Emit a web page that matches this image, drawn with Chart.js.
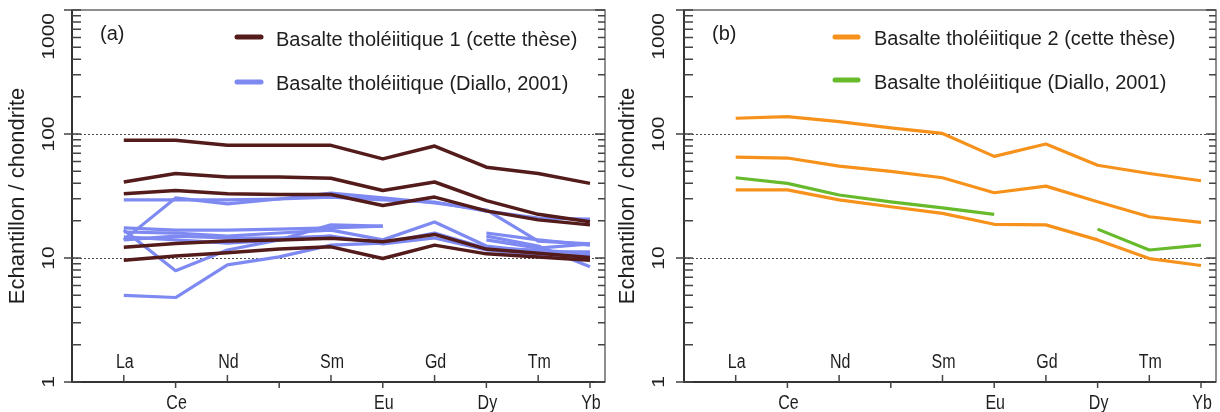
<!DOCTYPE html>
<html>
<head>
<meta charset="utf-8">
<script src="https://cdn.jsdelivr.net/npm/chart.js@4/dist/chart.umd.min.js"></script>
<style>
  html, body { margin: 0; padding: 0; background: #ffffff; }
  #wrap { display: flex; width: 1220px; height: 412px; }
  .panel { position: relative; width: 610px; height: 412px; }
  canvas { display: block; }
</style>
</head>
<body>
<div id="wrap">
  <div class="panel"><canvas id="chartA" width="610" height="412"></canvas></div>
  <div class="panel"><canvas id="chartB" width="610" height="412"></canvas></div>
</div>
<script>
// ---------- data ----------
const ELEMENTS = ['La', 'Ce', 'Nd', '', 'Sm', 'Eu', 'Gd', 'Dy', 'Tm', 'Yb'];
const POSITIONS = [1, 2, 3, 4, 5, 6, 7, 8, 9, 10];
const Y_MAJOR = [1, 10, 100, 1000];

const LEGEND_A = ['Basalte tholéiitique 1 (cette thèse)', 'Basalte tholéiitique (Diallo, 2001)'];
const LEGEND_B = ['Basalte tholéiitique 2 (cette thèse)', 'Basalte tholéiitique (Diallo, 2001)'];

// Panel (a) - basalte tholéiitique 1 (cette thèse)
const a_these_1 = [89, 89, 81, 81, 81, 63, 80, 54, 48, 40];
const a_these_2 = [41, 48, 45, 45, 44, 35, 41, 29, 22.5, 19.6];
const a_these_3 = [33, 35, 33, 32.5, 32.5, 26.5, 31, 24, 20.3, 18.5];
const a_these_4 = [12.2, 13.1, 13.7, 14.0, 14.4, 13.5, 15.5, 11.8, 10.9, 10.1];
const a_these_5 = [9.6, 10.4, 11.0, 11.8, 12.3, 9.9, 12.7, 10.8, 10.2, 9.6];

// Panel (a) - Diallo 2001
const a_diallo_1 = [29.4, 29.4, 29.4, 29.9, 31.0, 29.4, 28.3, 23.9, 21.0, 20.6];
const a_diallo_2 = [14.0, 30.5, 27.3, 29.9, 33.4, 30.5, 27.8, 24.4, 13.7, 13.0];
const a_diallo_3 = [17.5, 16.8, 16.8, 17.1, 17.5, 18.1, null, null, null, null];
const a_diallo_4 = [16.2, 15.9, 15.0, 15.9, 16.8, 14.0, 19.5, 12.5, 11.2, 11.2];
const a_diallo_5 = [16.8, 7.9, 11.6, 14.0, 18.5, 18.1, null, null, null, null];
const a_diallo_6 = [5.0, 4.8, 8.8, 10.2, 12.7, 13.2, 15.9, 12.0, 11.6, 10.8];
const a_diallo_7 = [14.8, 14.0, 13.2, 14.0, 15.0, 13.0, 14.5, 11.6, 10.6, 10.4];
const a_diallo_8 = [14.0, 15.0, 14.5, 14.5, 15.0, null, null, null, null, null];
const a_diallo_9 = [null, null, null, null, null, null, null, 15.9, 14.0, 12.7];
const a_diallo_10 = [null, null, null, null, null, null, null, 15.0, 12.5, 8.5];
const a_diallo_11 = [null, null, null, null, null, null, null, 14.0, 12.0, 13.0];

// Panel (b) - basalte tholéiitique 2 (cette thèse)
const b_these_1 = [134, 138, 126, 112, 101, 66, 83, 56, 48, 42];
const b_these_2 = [65, 64, 55, 50, 44.4, 33.6, 38, 28.4, 21.5, 19.4];
const b_these_3 = [35.4, 35.4, 29.4, 25.9, 22.9, 18.7, 18.5, 14.0, 9.9, 8.7];

// Panel (b) - Diallo 2001
const b_diallo_1 = [44.4, 40, 32.2, 28.4, 25.4, 22.5, null, 17.1, 11.6, 12.7];

// ---------- styling ----------
const BROWN = '#541b1b';
const BLUE = '#7e8af2';
const ORANGE = '#f6921c';
const GREEN = '#67ba2c';
const FONT = '"Liberation Sans", Arial, Helvetica, sans-serif';

function toPoints(vals) {
  return vals.map((v, i) => ({ x: POSITIONS[i], y: v }));
}
function series(label, vals, color, width) {
  return {
    label: label,
    data: toPoints(vals),
    borderColor: color,
    backgroundColor: color,
    borderWidth: width,
    pointRadius: 0,
    pointHoverRadius: 0,
    tension: 0,
    fill: false,
    spanGaps: false,
    borderJoinStyle: 'round',
    borderCapStyle: 'butt'
  };
}

// plugin: frame, ticks, tick labels, legend, panel letter
const framePlugin = {
  id: 'frame',
  afterDraw(chart, args, opts) {
    const { ctx, chartArea: a, scales: { x, y } } = chart;
    ctx.save();

    // box
    ctx.strokeStyle = '#6a6a6a';
    ctx.lineWidth = 1.5;
    ctx.strokeRect(a.left, a.top, a.right - a.left, a.bottom - a.top);
    ctx.strokeStyle = '#333333';
    ctx.lineWidth = 2;
    ctx.beginPath();
    ctx.moveTo(a.left, a.top);
    ctx.lineTo(a.left, a.bottom);
    ctx.lineTo(a.right, a.bottom);
    ctx.stroke();

    // y ticks
    ctx.lineWidth = 1.5;
    ctx.strokeStyle = '#444444';
    for (let e = 0; e <= 3; e++) {
      for (let m = 1; m <= 9; m++) {
        const v = m * Math.pow(10, e);
        if (v > 1000) break;
        const py = y.getPixelForValue(v);
        const major = (m === 1);
        ctx.beginPath();
        if (major) {
          ctx.moveTo(a.left - 8, py); ctx.lineTo(a.left + 9, py);
          ctx.moveTo(a.right - 10, py); ctx.lineTo(a.right, py);
        } else {
          ctx.moveTo(a.left, py); ctx.lineTo(a.left + 9, py);
          ctx.moveTo(a.right - 7, py); ctx.lineTo(a.right, py);
        }
        ctx.stroke();
      }
    }

    // x ticks (alternating inside / outside)
    POSITIONS.forEach((p, i) => {
      const px = x.getPixelForValue(p);
      ctx.beginPath();
      if (i % 2 === 0) { ctx.moveTo(px, a.bottom); ctx.lineTo(px, a.bottom - 7); }
      else { ctx.moveTo(px, a.bottom); ctx.lineTo(px, a.bottom + 6); }
      ctx.stroke();
    });

    // x labels, two rows
    ctx.fillStyle = '#1e1e1e';
    ctx.font = '20px ' + FONT;
    ctx.textAlign = 'center';
    ctx.textBaseline = 'alphabetic';
    ELEMENTS.forEach((lab, i) => {
      if (!lab) return;
      const px = x.getPixelForValue(POSITIONS[i]);
      const by = (i % 2 === 0) ? a.bottom - 14.5 : a.bottom + 27;
      ctx.save();
      ctx.translate(px + 1, by);
      ctx.scale(0.8, 1);
      ctx.fillText(lab, 0, 0);
      ctx.restore();
    });

    // y labels, rotated
    ctx.font = '21px ' + FONT;
    ctx.textBaseline = 'middle';
    Y_MAJOR.forEach(v => {
      const txt = String(v);
      const half = ctx.measureText(txt).width / 2;
      let cy = y.getPixelForValue(v);
      cy = Math.max(cy, a.top + half + 3);
      ctx.save();
      ctx.translate(opts.yLabelX, cy);
      ctx.rotate(-Math.PI / 2);
      ctx.scale(1, 0.8);
      ctx.fillText(txt, 0, 0);
      ctx.restore();
    });

    // panel letter
    ctx.font = '20px ' + FONT;
    ctx.textAlign = 'left';
    ctx.textBaseline = 'alphabetic';
    ctx.fillText(opts.letter, opts.letterX, 40);

    // legend
    ctx.font = '20px ' + FONT;
    opts.legend.forEach(it => {
      ctx.strokeStyle = it.color;
      ctx.lineWidth = 5;
      ctx.lineCap = 'round';
      ctx.beginPath();
      ctx.moveTo(it.x0, it.y);
      ctx.lineTo(it.x1, it.y);
      ctx.stroke();
      ctx.fillStyle = '#1e1e1e';
      ctx.fillText(it.text, it.tx, it.ty);
    });

    ctx.restore();
  }
};

function makeChart(id, datasets, cfg) {
  return new Chart(document.getElementById(id), {
    type: 'line',
    data: { datasets: datasets },
    options: {
      responsive: false,
      animation: false,
      devicePixelRatio: 1,
      layout: { padding: { top: 10, right: cfg.padRight, bottom: 0, left: 0 } },
      plugins: {
        legend: { display: false },
        tooltip: { enabled: false },
        frame: cfg.frame
      },
      scales: {
        x: {
          type: 'linear',
          min: 0,
          max: 10.29,
          ticks: { display: false },
          grid: { display: false },
          border: { display: false },
          afterFit: s => { s.height = 30; }
        },
        y: {
          type: 'logarithmic',
          min: 1,
          max: 1000,
          ticks: { display: false },
          grid: {
            drawTicks: false,
            lineWidth: 1,
            color: c => (c.tick && (c.tick.value === 10 || c.tick.value === 100)) ? '#4a4a4a' : 'rgba(0,0,0,0)'
          },
          border: { display: false, dash: [2, 2] },
          title: {
            display: true,
            text: 'Echantillon / chondrite',
            color: '#1e1e1e',
            font: { family: FONT, size: 22 },
            padding: { top: 5, bottom: 0 }
          },
          afterFit: s => { s.width = cfg.axisWidth; }
        }
      }
    },
    plugins: [framePlugin]
  });
}

makeChart('chartA', [
  series(LEGEND_A[0], a_these_1, BROWN, 3.5),
  series(LEGEND_A[0], a_these_2, BROWN, 3.5),
  series(LEGEND_A[0], a_these_3, BROWN, 3.5),
  series(LEGEND_A[0], a_these_4, BROWN, 3.5),
  series(LEGEND_A[0], a_these_5, BROWN, 3.5),
  series(LEGEND_A[1], a_diallo_1, BLUE, 3.2),
  series(LEGEND_A[1], a_diallo_2, BLUE, 3.2),
  series(LEGEND_A[1], a_diallo_3, BLUE, 3.2),
  series(LEGEND_A[1], a_diallo_4, BLUE, 3.2),
  series(LEGEND_A[1], a_diallo_5, BLUE, 3.2),
  series(LEGEND_A[1], a_diallo_6, BLUE, 3.2),
  series(LEGEND_A[1], a_diallo_7, BLUE, 3.2),
  series(LEGEND_A[1], a_diallo_8, BLUE, 3.2),
  series(LEGEND_A[1], a_diallo_9, BLUE, 3.2),
  series(LEGEND_A[1], a_diallo_10, BLUE, 3.2),
  series(LEGEND_A[1], a_diallo_11, BLUE, 3.2)
], {
  padRight: 5,
  axisWidth: 72,
  frame: {
    letter: '(a)', letterX: 100, yLabelX: 49,
    legend: [
      { text: LEGEND_A[0], color: BROWN, x0: 237, x1: 261, y: 37, tx: 276, ty: 46 },
      { text: LEGEND_A[1], color: BLUE, x0: 237, x1: 261, y: 82, tx: 276, ty: 90 }
    ]
  }
});

makeChart('chartB', [
  series(LEGEND_B[0], b_these_1, ORANGE, 3.2),
  series(LEGEND_B[0], b_these_2, ORANGE, 3.2),
  series(LEGEND_B[0], b_these_3, ORANGE, 3.2),
  series(LEGEND_B[1], b_diallo_1, GREEN, 3.2)
], {
  padRight: 4,
  axisWidth: 74,
  frame: {
    letter: '(b)', letterX: 102, yLabelX: 49,
    legend: [
      { text: LEGEND_B[0], color: ORANGE, x0: 225, x1: 248, y: 37, tx: 264, ty: 45 },
      { text: LEGEND_B[1], color: GREEN, x0: 225, x1: 248, y: 80, tx: 264, ty: 89 }
    ]
  }
});
</script>
</body>
</html>
